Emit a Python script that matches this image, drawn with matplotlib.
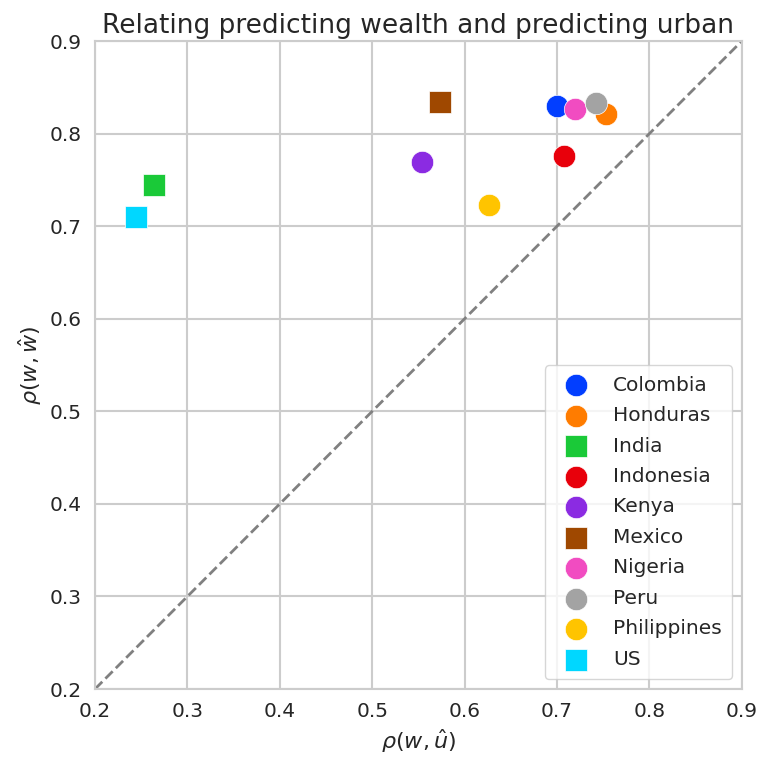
import matplotlib
matplotlib.use("Agg")
import matplotlib.pyplot as plt
import seaborn as sns

countries = ["Colombia", "Honduras", "India", "Indonesia", "Kenya",
             "Mexico", "Nigeria", "Peru", "Philippines", "US"]
rho_urban = [0.700, 0.753, 0.264, 0.708, 0.554, 0.573, 0.719, 0.742, 0.626, 0.244]
rho_wealth = [0.830, 0.821, 0.744, 0.776, 0.769, 0.834, 0.827, 0.833, 0.723, 0.710]
markers = ["o", "o", "s", "o", "o", "s", "o", "o", "o", "s"]

sns.set_theme(style="whitegrid")
colors = sns.color_palette("bright", len(countries))

fig, ax = plt.subplots(figsize=(7.6, 7.61), dpi=100)
fig.subplots_adjust(left=0.125, right=0.976, top=0.946, bottom=0.0946)

ax.plot([0.2, 0.9], [0.2, 0.9], ls="--", color="grey", lw=2, zorder=1)
for name, xv, yv, m, c in zip(countries, rho_urban, rho_wealth, markers, colors):
    ax.scatter(xv, yv, s=260, marker=m, color=c, label=name,
               edgecolor="white", linewidth=0.5, zorder=3)

ax.set_xlim(0.2, 0.9)
ax.set_ylim(0.2, 0.9)
ax.set_xticks([0.2, 0.3, 0.4, 0.5, 0.6, 0.7, 0.8, 0.9])
ax.set_yticks([0.2, 0.3, 0.4, 0.5, 0.6, 0.7, 0.8, 0.9])
ax.tick_params(labelsize=14.5)
for sp in ax.spines.values():
    sp.set_color("#cccccc")
    sp.set_linewidth(1.5)
ax.grid(color="#cccccc", linewidth=1.5)

ax.set_xlabel(r"$\rho(w, \hat{u})$", fontsize=16)
ax.set_ylabel(r"$\rho(w, \hat{w})$", fontsize=16)
ax.set_title("Relating predicting wealth and predicting urban", fontsize=19)

ax.legend(loc="lower right", fontsize=14.5, markerscale=1.0,
          handletextpad=0.85, borderpad=0.5, labelspacing=0.57)

fig.savefig("out.png", dpi=100)
